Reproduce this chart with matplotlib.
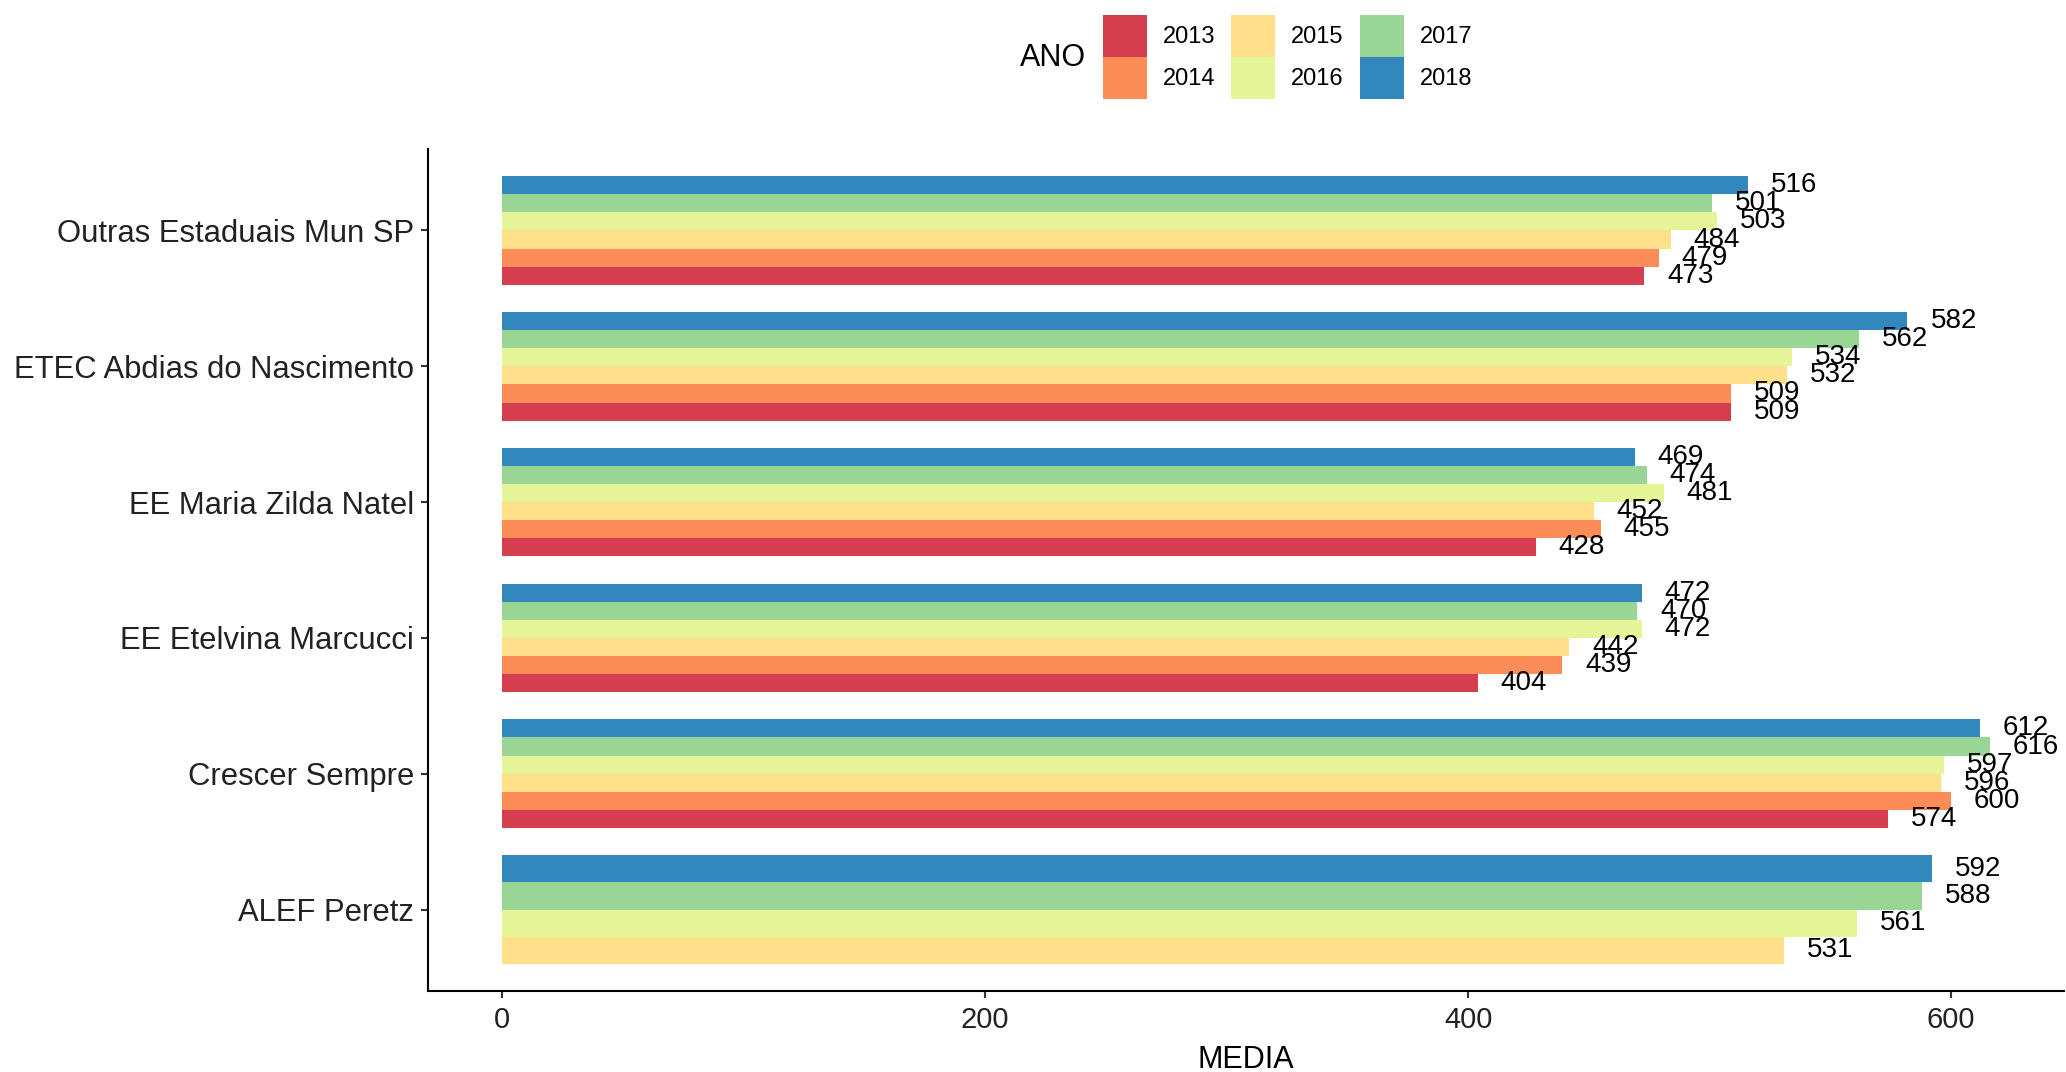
import numpy as np
import matplotlib
matplotlib.use("Agg")
from matplotlib import pyplot as plt
from matplotlib.patches import Patch

plt.rcParams['font.family'] = ['Liberation Sans', 'DejaVu Sans']

# escolas, de baixo para cima no eixo
escolas = ["ALEF Peretz", "Crescer Sempre", "EE Etelvina Marcucci",
           "EE Maria Zilda Natel", "ETEC Abdias do Nascimento",
           "Outras Estaduais Mun SP"]
anos = ["2013", "2014", "2015", "2016", "2017", "2018"]
cores = ["#D53E4F", "#FC8D59", "#FEE08B", "#E6F598", "#99D594", "#3288BD"]

# media por ano (None = sem dado)
media_2013 = [None, 574, 404, 428, 509, 473]
media_2014 = [None, 600, 439, 455, 509, 479]
media_2015 = [531, 596, 442, 452, 532, 484]
media_2016 = [561, 597, 472, 481, 534, 503]
media_2017 = [588, 616, 470, 474, 562, 501]
media_2018 = [592, 612, 472, 469, 582, 516]
medias = [media_2013, media_2014, media_2015, media_2016, media_2017, media_2018]

fig = plt.figure(figsize=(20.66, 10.72), dpi=100)
ax = fig.add_axes([428 / 2066, 81 / 1072, 1 - 428 / 2066 - 0.001, (991 - 149) / 1072])

largura = 0.8
for i, escola in enumerate(escolas):
    presentes = [k for k in range(len(anos)) if medias[k][i] is not None]
    n = len(presentes)
    w = largura / n
    for j, k in enumerate(presentes):
        y = i + 1 - largura / 2 + w * (j + 0.5)
        v = medias[k][i]
        ax.barh(y, v, height=w, color=cores[k], linewidth=0)
        ax.annotate(str(v), (v, y), xytext=(16.5, 0), textcoords="offset points",
                    ha="left", va="center", fontsize=20, color="black",
                    annotation_clip=False)

vmax = max(max(v for v in m if v is not None) for m in medias)
ax.set_xlim(-0.05 * vmax, vmax * 1.05)
ax.set_ylim(0.4, len(escolas) + 0.6)
ax.set_yticks(range(1, len(escolas) + 1))
ax.set_yticklabels(escolas)
ax.set_xticks([0, 200, 400, 600])

for s in ["top", "right"]:
    ax.spines[s].set_visible(False)
for s in ["left", "bottom"]:
    ax.spines[s].set_linewidth(1.5)
    ax.spines[s].set_color("black")
ax.tick_params(axis="both", length=5, width=1.5, color="#333333",
               labelcolor="#222222", pad=6)
ax.tick_params(axis="x", labelsize=21)
ax.tick_params(axis="y", labelsize=22.3, pad=5)
ax.set_xlabel("MEDIA", fontsize=22, color="black", labelpad=8)

handles = [Patch(facecolor=c, edgecolor="none") for c in cores]
fig.legend(handles, anos, loc="center", bbox_to_anchor=(1287.5 / 2066, 1 - 57 / 1072),
           ncol=3, frameon=False, fontsize=17, handlelength=1.86, handleheight=2.35,
           labelspacing=0, handletextpad=0.68, columnspacing=0.68, borderpad=0,
           borderaxespad=0)
fig.text(1020 / 2066, 1 - 58 / 1072, "ANO", fontsize=22, ha="left", va="center")

fig.savefig("out.png", dpi=100)
